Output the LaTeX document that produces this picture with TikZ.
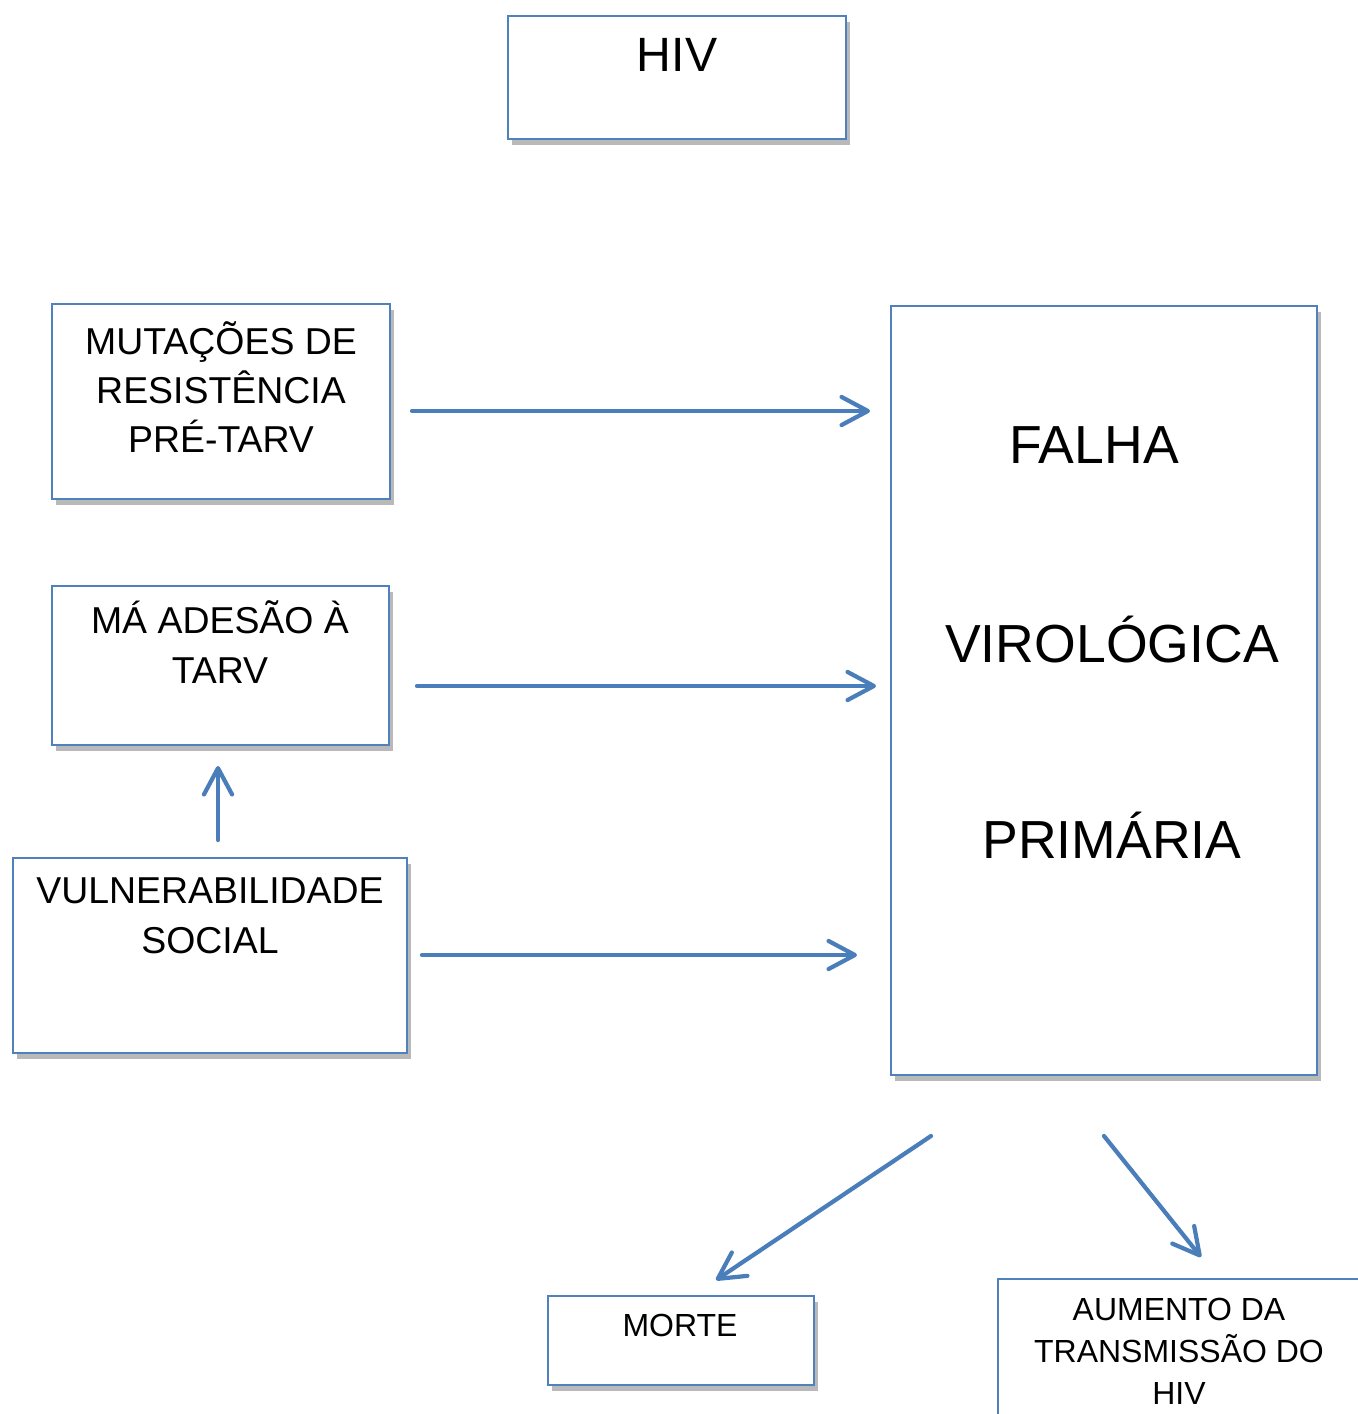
\documentclass[tikz,border=0pt]{standalone}
\usepackage{fontspec}
\setmainfont{Liberation Sans}
\usetikzlibrary{arrows.meta,shadows}
\definecolor{boxblue}{RGB}{79,129,189}
\definecolor{arrowblue}{RGB}{74,126,187}
\tikzset{
  box/.style={draw=boxblue, line width=0.9pt, fill=white, inner sep=0pt,
    drop shadow={shadow xshift=2.5pt, shadow yshift=-3.5pt, opacity=0.55}},
  flow/.style={draw=arrowblue, line width=2.4pt, line cap=round,
    -{Straight Barb[length=15pt,width=16pt,round]}},
  midtxt/.style={align=center, font=\fontsize{21.3}{28}\selectfont},
  bigtxt/.style={font=\fontsize{30.5}{36}\selectfont},
  smalltxt/.style={align=center, font=\fontsize{18.2}{23.9}\selectfont}
}
\begin{document}
\begin{tikzpicture}[x=0.02cm,y=-0.02cm]
\useasboundingbox (0,0) rectangle (1358,1414);
\clip (0,0) rectangle (1358,1414);
% boxes
\node[box, minimum width=6.76cm, minimum height=2.46cm] (hiv) at (677,77.5) {};
\node[box, minimum width=6.76cm, minimum height=3.9cm] (mut) at (221,401.5) {};
\node[box, minimum width=6.74cm, minimum height=3.18cm] (ade) at (220.5,665.5) {};
\node[box, minimum width=7.88cm, minimum height=3.9cm] (vul) at (210,955.5) {};
\node[box, minimum width=8.52cm, minimum height=15.38cm] (fal) at (1104,690.5) {};
\node[box, minimum width=5.32cm, minimum height=1.78cm] (mor) at (681,1340.5) {};
\node[box, minimum width=8cm, minimum height=3.2cm] (aum) at (1198,1359) {};
% texts
\node[font=\fontsize{27.4}{33}\selectfont] (hivtxt) at (677,55) {HIV};
\node[midtxt] (muttxt) at (221,387) {MUTAÇÕES DE\\RESISTÊNCIA\\PRÉ-TARV};
\node[midtxt] (adetxt) at (220,642) {MÁ ADESÃO À\\TARV};
\node[midtxt, font=\fontsize{21.3}{28.5}\selectfont] (vultxt) at (210,916) {VULNERABILIDADE\\SOCIAL};
\node[bigtxt] (faltxt1) at (1094,445) {FALHA};
\node[bigtxt] (faltxt2) at (1112,640) {VIROLÓGICA};
\node[bigtxt] (faltxt3) at (1112,835) {PRIMÁRIA};
\node[smalltxt] (mortxt) at (680,1325) {MORTE};
\node[smalltxt] (aumtxt) at (1179,1351) {AUMENTO DA\\TRANSMISSÃO DO\\HIV};
% arrow ends
\path (412,411) coordinate (m1)
      (870,411) coordinate (m2)
      (417,686) coordinate (a1)
      (876,686) coordinate (a2)
      (422,955) coordinate (v1)
      (857,955) coordinate (v2)
      (218,840) coordinate (u1)
      (218,766) coordinate (u2)
      (931,1136) coordinate (d1)
      (716,1280) coordinate (d2)
      (1104,1136) coordinate (t1)
      (1201,1257) coordinate (t2);
\draw[flow] (m1) -- (m2);
\draw[flow] (a1) -- (a2);
\draw[flow] (v1) -- (v2);
\draw[flow] (u1) -- (u2);
\draw[flow] (d1) -- (d2);
\draw[flow] (t1) -- (t2);
\end{tikzpicture}
\end{document}
